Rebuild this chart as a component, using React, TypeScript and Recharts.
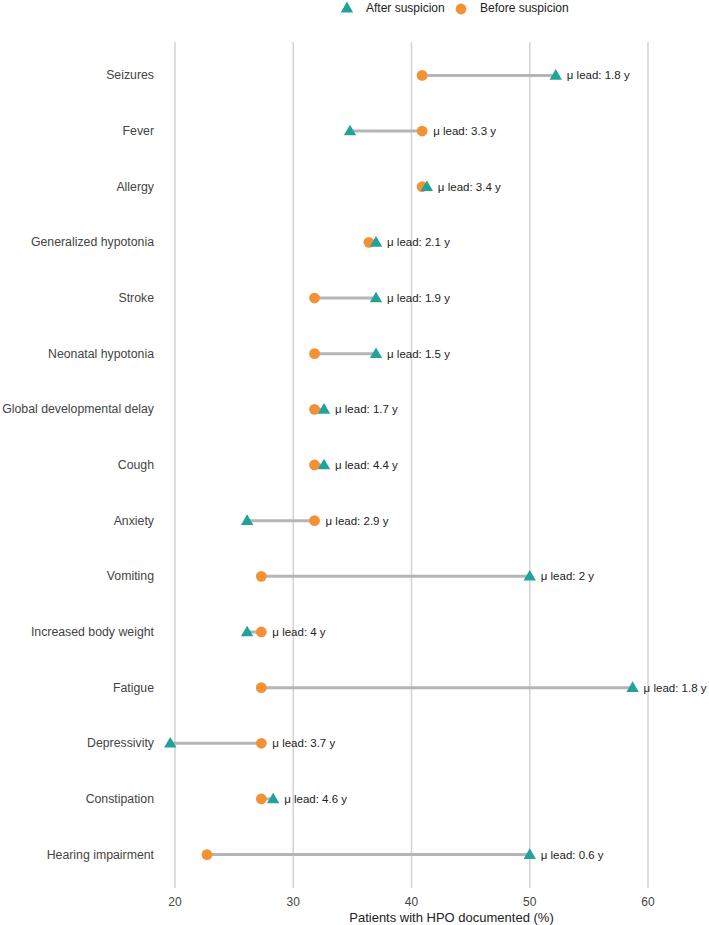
import React from "react";
import {
  ComposedChart,
  Scatter,
  XAxis,
  YAxis,
  ReferenceLine,
  Legend,
} from "recharts";

const categories = [
  "Seizures",
  "Fever",
  "Allergy",
  "Generalized hypotonia",
  "Stroke",
  "Neonatal hypotonia",
  "Global developmental delay",
  "Cough",
  "Anxiety",
  "Vomiting",
  "Increased body weight",
  "Fatigue",
  "Depressivity",
  "Constipation",
  "Hearing impairment",
];

const beforeValues = [40.9, 40.9, 40.9, 36.4, 31.8, 31.8, 31.8, 31.8, 31.8, 27.3, 27.3, 27.3, 27.3, 27.3, 22.7];
const afterValues = [52.2, 34.8, 41.3, 37.0, 37.0, 37.0, 32.6, 32.6, 26.1, 50.0, 26.1, 58.7, 19.6, 28.3, 50.0];
const leadYears = ["1.8", "3.3", "3.4", "2.1", "1.9", "1.5", "1.7", "4.4", "2.9", "2", "4", "1.8", "3.7", "4.6", "0.6"];

const xTicks = [20, 30, 40, 50, 60];
const rowTicks = categories.map((_, i) => i + 1);

const TEAL = "#21A399";
const ORANGE = "#F39234";
const SEG = "#b5b5b5";
const GRID = "#d3d3d3";
const FONT = "'Liberation Sans', Arial, Helvetica, sans-serif";

const beforePts = categories.map((c, i) => ({ x: beforeValues[i], y: i + 1, name: c }));
const afterPts = categories.map((c, i) => ({ x: afterValues[i], y: i + 1, name: c }));
const labelPts = categories.map((c, i) => ({
  x: Math.max(beforeValues[i], afterValues[i]),
  y: i + 1,
  text: `\u03bc lead: ${leadYears[i]} y`,
}));

const CircleShape = (p: any) => <circle cx={p.cx} cy={p.cy} r={5.4} fill={ORANGE} />;
const TriangleShape = (p: any) => (
  <polygon
    points={`${p.cx},${p.cy - 6.3} ${p.cx - 6.2},${p.cy + 4.3} ${p.cx + 6.2},${p.cy + 4.3}`}
    fill={TEAL}
  />
);
const LabelShape = (p: any) => (
  <text
    x={p.cx + 11}
    y={p.cy}
    dominantBaseline="central"
    fontSize={11.5}
    fontFamily={FONT}
    fill="#222"
  >
    {p.payload.text}
  </text>
);

const YTick = (p: any) => (
  <text
    x={p.x}
    y={p.y}
    textAnchor="end"
    dominantBaseline="central"
    fontSize={12.3}
    fontFamily={FONT}
    fill="#444"
  >
    {categories[p.payload.value - 1] ?? ""}
  </text>
);

const LegendContent = () => (
  <div style={{ position: "relative", width: 709, height: 20, fontFamily: FONT, fontSize: 12, color: "#222" }}>
    <svg width={14} height={14} style={{ position: "absolute", left: 340, top: 1 }}>
      <polygon points="7,0.5 0.8,11.5 13.2,11.5" fill={TEAL} />
    </svg>
    <span style={{ position: "absolute", left: 366, top: 1, whiteSpace: "nowrap" }}>After suspicion</span>
    <svg width={12} height={12} style={{ position: "absolute", left: 455, top: 3 }}>
      <circle cx={6} cy={6} r={5.4} fill={ORANGE} />
    </svg>
    <span style={{ position: "absolute", left: 480, top: 1, whiteSpace: "nowrap" }}>Before suspicion</span>
  </div>
);

export default function App() {
  return (
    <div style={{ position: "absolute", left: 0, top: 0, width: 709, height: 925, background: "#fff" }}>
      <ComposedChart
        width={709}
        height={925}
        margin={{ top: 42, right: 0, left: 0, bottom: 0 }}
        style={{ fontFamily: FONT }}
      >
        <XAxis
          type="number"
          dataKey="x"
          domain={[18.7315, 65.159]}
          ticks={xTicks}
          axisLine={false}
          tickLine={false}
          tickSize={0}
          tickMargin={9}
          height={37}
          tick={{ fontSize: 12, fill: "#444", fontFamily: FONT }}
          label={{
            value: "Patients with HPO documented (%)",
            position: "insideBottom",
            offset: 3,
            dx: 17,
            style: { fontSize: 13, fill: "#222", fontFamily: FONT },
          }}
        />
        <YAxis
          type="number"
          dataKey="y"
          domain={[0.4, 15.6]}
          reversed
          ticks={rowTicks}
          interval={0}
          axisLine={false}
          tickLine={false}
          tickSize={0}
          tickMargin={6}
          width={160}
          tick={YTick}
        />
        <Legend
          verticalAlign="middle"
          align="center"
          content={LegendContent}
          wrapperStyle={{ top: 0, left: 0, width: 709, height: 20 }}
        />
        {xTicks.map((t) => (
          <ReferenceLine key={`g${t}`} x={t} stroke={GRID} strokeWidth={1.5} />
        ))}
        {categories.map((c, i) => (
          <ReferenceLine
            key={c}
            segment={[
              { x: beforeValues[i], y: i + 1 },
              { x: afterValues[i], y: i + 1 },
            ]}
            stroke={SEG}
            strokeWidth={3}
            ifOverflow="visible"
          />
        ))}
        <Scatter name="Before suspicion" data={beforePts} shape={CircleShape} isAnimationActive={false} />
        <Scatter name="After suspicion" data={afterPts} shape={TriangleShape} isAnimationActive={false} />
        <Scatter name="labels" data={labelPts} shape={LabelShape} legendType="none" isAnimationActive={false} />
      </ComposedChart>
    </div>
  );
}
